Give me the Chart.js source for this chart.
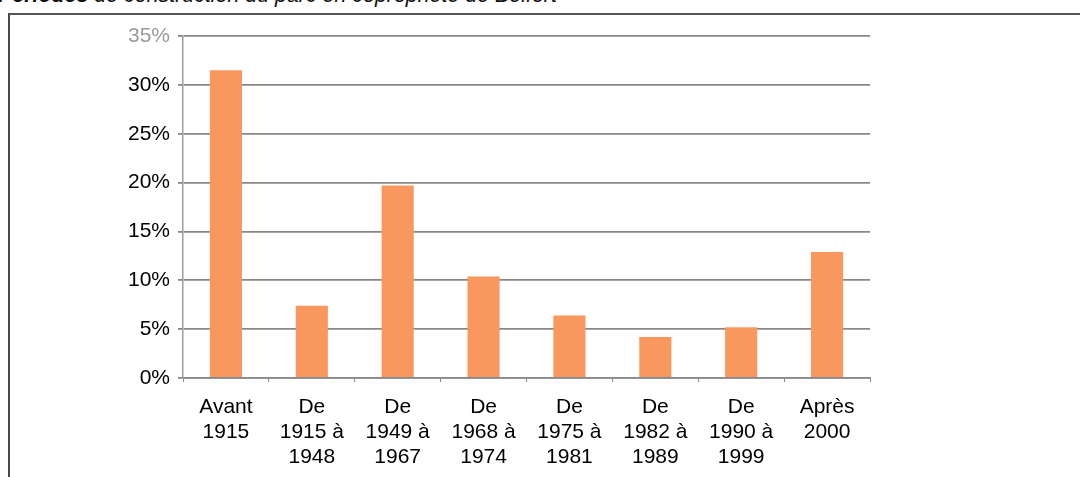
<!doctype html>
<html>
<head>
    <title>Périodes de construction - Belfort</title>
    <script src="https://cdn.jsdelivr.net/npm/chart.js"></script>
    <style>
        html, body { margin: 0; padding: 0; background: #fff; }
        .wrapper { position: relative; width: 1080px; height: 477px; overflow: hidden; }
        .frame { position: absolute; left: 8px; top: 13px; right: -4px; bottom: -4px;
                 border-left: 2px solid #4a4a4a; border-top: 2px solid #555; }
        .caption { position: absolute; left: -2px; top: -17px; white-space: nowrap;
                   font-family: "Liberation Sans", Arial, sans-serif; font-style: italic;
                   font-size: 21.4px; color: #111; }
        .caption b { font-weight: bold; }
        canvas { position: absolute; left: 0; top: 0; }
    </style>
</head>

<body>
    <div class="wrapper">
        <div class="caption"><b>Périodes</b> de construction du parc en copropriété de Belfort</div>
        <div class="frame"></div>
        <canvas id="chart" width="1080" height="477"></canvas>
    </div>

    <script>
        // Périodes de construction (libellés sur plusieurs lignes)
        var periods = [
            ['Avant', '1915'],
            ['De', '1915 à', '1948'],
            ['De', '1949 à', '1967'],
            ['De', '1968 à', '1974'],
            ['De', '1975 à', '1981'],
            ['De', '1982 à', '1989'],
            ['De', '1990 à', '1999'],
            ['Après', '2000']
        ];

        // Part du parc en copropriété, en %
        var shares = [31.5, 7.4, 19.7, 10.4, 6.4, 4.2, 5.2, 12.9];

        // Graduations de l'axe vertical
        var yMax = 35, yStep = 5;

        var gridGrey = '#888';
        var labelFont = { family: '"Liberation Sans", Arial, sans-serif', size: 21, lineHeight: 1.19 };

        var ctx = document.getElementById('chart').getContext('2d');
        var chart = new Chart(ctx, {
            type: 'bar',
            data: {
                labels: periods,
                datasets: [{
                    data: shares,
                    backgroundColor: '#f8985e',
                    borderWidth: 0,
                    barPercentage: 0.374,
                    categoryPercentage: 1
                }]
            },
            options: {
                responsive: false,
                animation: false,
                layout: { padding: { top: 36, right: 210, bottom: 0, left: 0 } },
                plugins: {
                    legend: { display: false },
                    tooltip: { enabled: false }
                },
                scales: {
                    x: {
                        grid: {
                            display: true,
                            drawOnChartArea: false,
                            drawTicks: true,
                            tickLength: 4,
                            color: gridGrey,
                            offset: true
                        },
                        border: { display: true, color: gridGrey, width: 1.5 },
                        ticks: {
                            color: '#000',
                            font: labelFont,
                            padding: 13,
                            maxRotation: 0,
                            autoSkip: false
                        },
                        afterFit: function(scale) { scale.height = 99; }
                    },
                    y: {
                        min: 0,
                        max: yMax,
                        grid: {
                            color: gridGrey,
                            lineWidth: 1.8,
                            tickLength: 5
                        },
                        border: { display: true, color: '#9a9fa6', width: 1.5 },
                        ticks: {
                            stepSize: yStep,
                            padding: 8,
                            font: labelFont,
                            color: function(c) { return c.tick.value === yMax ? '#9a9a9a' : '#000'; },
                            callback: function(v) { return v + '%'; }
                        },
                        afterFit: function(scale) { scale.width = 183; }
                    }
                }
            }
        });
    </script>
</body>
</html>
